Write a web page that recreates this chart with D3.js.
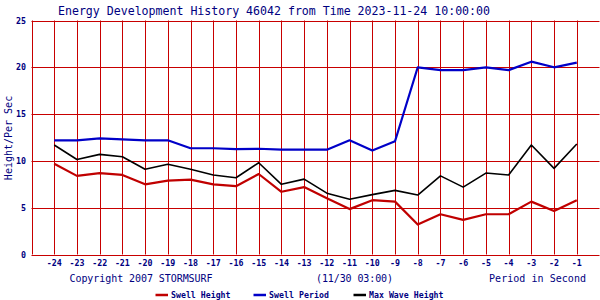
<!DOCTYPE html>
<html>
<head>
<meta charset="utf-8">
<script src="https://cdn.jsdelivr.net/npm/d3@7"></script>
<style>
  html, body { margin: 0; padding: 0; background: #fff; }
  svg { display: block; font-family: "DejaVu Sans Mono", "Liberation Mono", monospace; }
</style>
</head>
<body>
<svg id="chart" width="600" height="300"></svg>
<script>
/* ---------- data ---------- */
const hours = d3.range(-24, 0);   // -24 .. -1
const swellHeight = [9.7, 8.4, 8.7, 8.5, 7.5, 7.9, 8.0, 7.5, 7.3, 8.6, 6.7, 7.2,
                     6.0, 4.85, 5.8, 5.65, 3.2, 4.3, 3.7, 4.3, 4.3, 5.65, 4.65, 5.8];
const swellPeriod = [12.2, 12.2, 12.4, 12.3, 12.2, 12.2, 11.35, 11.35, 11.25, 11.3, 11.2, 11.2,
                     11.2, 12.2, 11.1, 12.1, 20.0, 19.7, 19.7, 20.0, 19.7, 20.6, 20.0, 20.5];
const maxWave = [11.7, 10.15, 10.7, 10.45, 9.1, 9.65, 9.1, 8.5, 8.2, 9.8, 7.5, 8.05,
                 6.55, 5.9, 6.4, 6.85, 6.35, 8.4, 7.2, 8.7, 8.5, 11.7, 9.2, 11.8];
const yTicks = [0, 5, 10, 15, 20, 25];

const series = [
  { name: 'Swell Height',    values: swellHeight, color: '#c00000' },
  { name: 'Swell Period',    values: swellPeriod, color: '#0000c8' },
  { name: 'Max Wave Height', values: maxWave,     color: '#000000' },
];

const NAVY = '#000080';
const GRID = '#c80000';

/* ---------- layout ---------- */
const svg = d3.select('#chart');
const x = d3.scaleLinear().domain([-25, 0]).range([31.5, 599.5]);
const y = d3.scaleLinear().domain([0, 25]).range([254.5, 20.5]);

/* ---------- grid ---------- */
const grid = svg.append('g');
grid.selectAll('line.v').data(d3.range(-25, 1)).join('line')
  .attr('class', 'v')
  .attr('x1', d => Math.round(x(d)) + 0.5).attr('x2', d => Math.round(x(d)) + 0.5)
  .attr('y1', y(25)).attr('y2', y(0))
  .attr('stroke', GRID).attr('stroke-width', 1);
grid.selectAll('line.h').data(yTicks).join('line')
  .attr('class', 'h')
  .attr('x1', x(-25)).attr('x2', x(0))
  .attr('y1', d => Math.round(y(d)) + 0.5).attr('y2', d => Math.round(y(d)) + 0.5)
  .attr('stroke', GRID).attr('stroke-width', 1);

/* ---------- axis labels ---------- */
svg.append('g').selectAll('text').data(yTicks).join('text')
  .attr('x', 26).attr('y', d => y(d) + 3)
  .attr('text-anchor', 'end')
  .attr('font-size', 8.3).attr('font-weight', 'bold')
  .attr('fill', NAVY)
  .text(d => d);

svg.append('g').selectAll('text').data(hours).join('text')
  .attr('x', d => x(d)).attr('y', 266)
  .attr('text-anchor', 'middle')
  .attr('font-size', 8.3).attr('font-weight', 'bold')
  .attr('fill', NAVY)
  .text(d => d);

svg.append('text')
  .attr('transform', 'translate(11.5,138) rotate(-90)')
  .attr('text-anchor', 'middle')
  .attr('font-size', 10).attr('fill', NAVY)
  .text('Height/Per Sec');

/* ---------- title & footer ---------- */
svg.append('text')
  .attr('x', 58).attr('y', 14.5)
  .attr('font-size', 11.6).attr('fill', NAVY).attr('textLength', 432)
  .text('Energy Development History 46042 from Time 2023-11-24 10:00:00');

svg.append('text').attr('x', 69.5).attr('y', 282)
  .attr('font-size', 10).attr('fill', NAVY).attr('textLength', 143)
  .text('Copyright 2007 STORMSURF');
svg.append('text').attr('x', 316).attr('y', 282)
  .attr('font-size', 10).attr('fill', NAVY).attr('textLength', 77)
  .text('(11/30 03:00)');
svg.append('text').attr('x', 489).attr('y', 282)
  .attr('font-size', 10).attr('fill', NAVY).attr('textLength', 97)
  .text('Period in Second');

/* ---------- lines ---------- */
const line = d3.line()
  .x((d, i) => x(hours[i]))
  .y(d => y(d));

svg.append('g').selectAll('path').data(series).join('path')
  .attr('d', s => line(s.values))
  .attr('fill', 'none')
  .attr('stroke', s => s.color)
  .attr('stroke-width', (s, i) => i === 2 ? 1.6 : 2.2)
  .attr('stroke-linejoin', 'round');

/* ---------- legend ---------- */
const legendX = [155.5, 253.5, 353.5];
const legendW = [59.5, 60, 74.5];
const lg = svg.append('g').selectAll('g').data(series).join('g')
  .attr('transform', (s, i) => `translate(${legendX[i]},295)`);
lg.append('line')
  .attr('x1', 0).attr('x2', 12.5).attr('y1', 0).attr('y2', 0)
  .attr('stroke', s => s.color).attr('stroke-width', 2.5);
lg.append('text')
  .attr('x', 15.5).attr('y', 3)
  .attr('font-size', 8.2).attr('font-weight', 'bold')
  .attr('fill', NAVY)
  .attr('textLength', (s, i) => legendW[i])
  .text(s => s.name);
</script>
</body>
</html>
